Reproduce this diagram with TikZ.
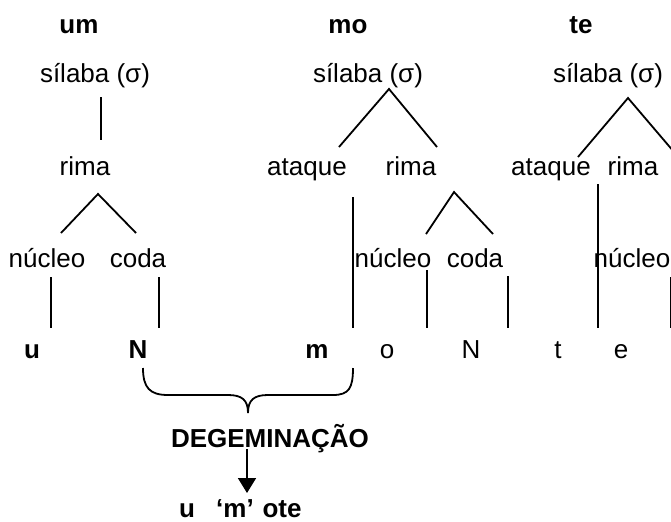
\documentclass[tikz,border=0pt]{standalone}
\usepackage{fontspec}
\setmainfont{Liberation Sans}
\usetikzlibrary{arrows.meta}
\begin{document}
\begin{tikzpicture}[x=0.5pt,y=-0.5pt,
  lbl/.style={anchor=base,inner sep=0pt,font=\fontsize{13}{15}\selectfont},
  blbl/.style={lbl,font=\fontsize{13}{15}\selectfont\bfseries},
  edge/.style={line width=0.9pt}]
\useasboundingbox (0,0) rectangle (671,521);
% titles
\node[blbl] (um) at (79,33) {um};
\node[blbl] (mo) at (348,33) {mo};
\node[blbl] (te) at (581,33) {te};
% syllables
\node[lbl] (s1) at (95,82) {sílaba (σ)};
\node[lbl] (s2) at (368,82) {sílaba (σ)};
\node[lbl] (s3) at (608,82) {sílaba (σ)};
% second row
\node[lbl] (r1) at (85,175) {rima};
\node[lbl] (a2) at (307,175) {ataque};
\node[lbl] (r2) at (411,175) {rima};
\node[lbl] (a3) at (551,175) {ataque};
\node[lbl] (r3) at (633,175) {rima};
% third row
\node[lbl] (n1) at (47,267) {núcleo};
\node[lbl] (c1) at (138,267) {coda};
\node[lbl] (n2) at (393,267) {núcleo};
\node[lbl] (c2) at (475,267) {coda};
\node[lbl] (n3) at (632,267) {núcleo};
% segments
\node[blbl] (u) at (32,358) {u};
\node[blbl] (N1) at (138,358) {N};
\node[blbl] (m) at (317,358) {m};
\node[lbl] (o) at (387,358) {o};
\node[lbl] (N2) at (471,358) {N};
\node[lbl] (t) at (558,358) {t};
\node[lbl] (e) at (621,358) {e};
% bottom
\node[blbl] (dg) at (270,447) {DEGEMINAÇÃO};
\node[blbl] (bu) at (187,517) {u};
\node[blbl] (bm) at (235,517) {‘m’};
\node[blbl] (bo) at (282,517) {ote};
% connector ends
\coordinate (s1b) at (101,97); \coordinate (r1t) at (101,140);
\coordinate (r1b) at (98,194); \coordinate (n1t) at (61,233); \coordinate (c1t) at (136,233);
\coordinate (n1b) at (51,277); \coordinate (ub) at (51,328);
\coordinate (c1b) at (159,277); \coordinate (Nb) at (159,328);
\coordinate (s2b) at (389,89); \coordinate (a2t) at (339,147); \coordinate (r2t) at (437,147);
\coordinate (a2b) at (353,197); \coordinate (mb) at (353,328);
\coordinate (r2b) at (454,192); \coordinate (n2t) at (426,234); \coordinate (c2t) at (493,234);
\coordinate (n2b) at (427,270); \coordinate (ob) at (427,328);
\coordinate (c2b) at (508,276); \coordinate (N2b) at (508,328);
\coordinate (s3b) at (628,98); \coordinate (a3t) at (578,157); \coordinate (r3t) at (680,159);
\coordinate (a3b) at (598,184); \coordinate (eb) at (598,328);
\coordinate (n3b) at (671,277); \coordinate (e2b) at (671,328);
\draw[edge] (s1b) -- (r1t);
\draw[edge] (n1t) -- (r1b) -- (c1t);
\draw[edge] (n1b) -- (ub);
\draw[edge] (c1b) -- (Nb);
\draw[edge] (a2t) -- (s2b) -- (r2t);
\draw[edge] (a2b) -- (mb);
\draw[edge] (n2t) -- (r2b) -- (c2t);
\draw[edge] (n2b) -- (ob);
\draw[edge] (c2b) -- (N2b);
\draw[edge] (a3t) -- (s3b) -- (r3t);
\draw[edge] (a3b) -- (eb);
\draw[edge] (n3b) -- (e2b);
% brace
\coordinate (bl) at (143,368); \coordinate (br) at (353,368); \coordinate (bt) at (248,413);
\draw[edge] (bl) .. controls (143,388) and (150,395) .. (168,395) -- (228,395)
  .. controls (242,395) and (248,400) .. (bt)
  .. controls (248,400) and (254,395) .. (268,395) -- (333,395)
  .. controls (349,395) and (353,388) .. (br);
% arrow
\coordinate (at) at (247,449); \coordinate (ab) at (247,493);
\draw[edge,-{Triangle[length=15*0.5pt,width=18*0.5pt]}] (at) -- (ab);
\end{tikzpicture}
\end{document}
